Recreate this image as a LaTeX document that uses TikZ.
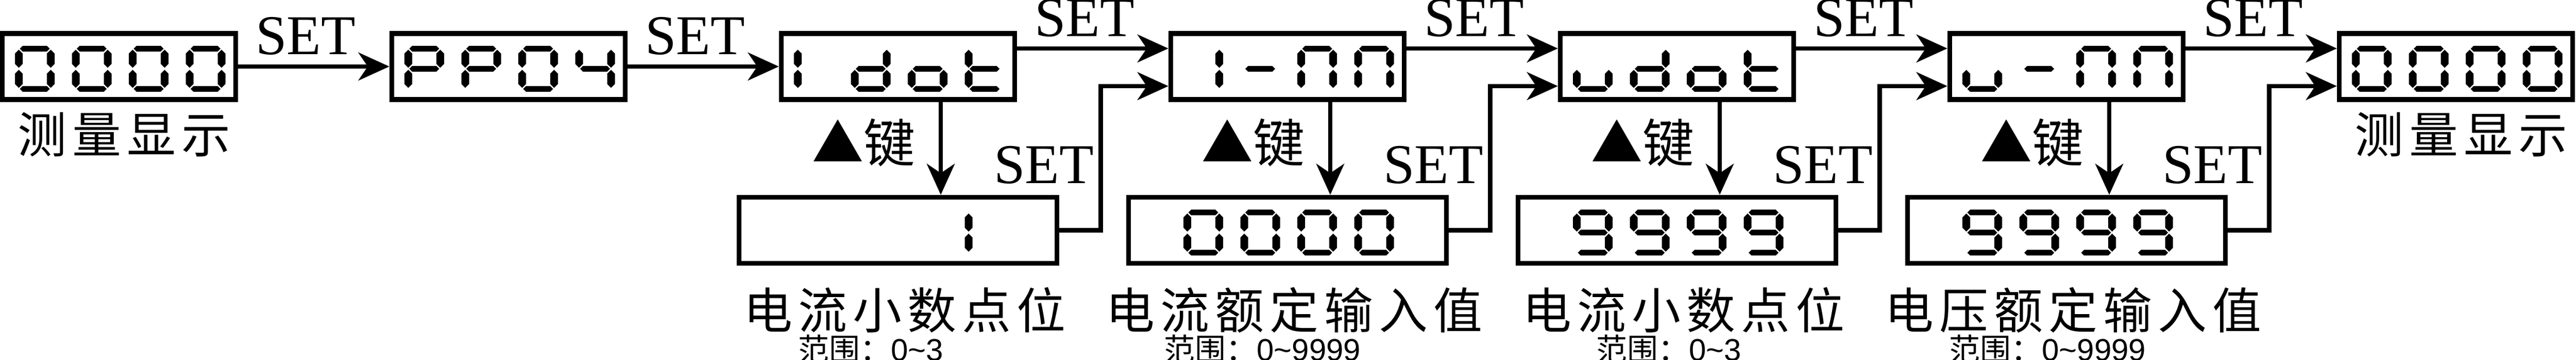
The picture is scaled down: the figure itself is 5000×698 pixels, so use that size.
\documentclass[tikz,border=0pt]{standalone}
\usepackage{fontspec}
\setmainfont{Liberation Serif}
\setsansfont{Liberation Sans}
\newfontfamily\cjk{Noto Sans CJK SC}
\newfontfamily\cjkls[LetterSpace=11.5]{Noto Sans CJK SC}
\usepackage{tikz}
\usetikzlibrary{arrows.meta,positioning}
\tikzset{>={Stealth[length=6pt,width=5.4pt,inset=1.8pt]}}

\newcommand\hseg[3]{\fill (#1+2,#3) -- (#1+7.5,#3-5.5) -- (#2-7.5,#3-5.5) -- (#2-2,#3) -- (#2-7.5,#3+5.5) -- (#1+7.5,#3+5.5) -- cycle;}
\newcommand\vseg[3]{\fill (#1,#2+2) -- (#1+7.5,#2+9.5) -- (#1+7.5,#3-9.5) -- (#1,#3-2) -- (#1-7.5,#3-9.5) -- (#1-7.5,#2+9.5) -- cycle;}
\newcommand\sgA{\hseg{7.5}{69.5}{5.5}}
\newcommand\sgB{\vseg{69.5}{5.5}{44.5}}
\newcommand\sgC{\vseg{69.5}{44.5}{83.5}}
\newcommand\sgD{\hseg{7.5}{69.5}{83.5}}
\newcommand\sgE{\vseg{7.5}{44.5}{83.5}}
\newcommand\sgF{\vseg{7.5}{5.5}{44.5}}
\newcommand\sgG{\hseg{7.5}{69.5}{44.5}}
\expandafter\def\csname lcd0\endcsname{\sgA\sgB\sgC\sgD\sgE\sgF}
\expandafter\def\csname lcd4\endcsname{\sgB\sgC\sgF\sgG}
\expandafter\def\csname lcd9\endcsname{\sgA\sgB\sgC\sgD\sgF\sgG}
\expandafter\def\csname lcdP\endcsname{\sgA\sgB\sgE\sgF\sgG}
\expandafter\def\csname lcdd\endcsname{\sgB\sgC\sgD\sgE\sgG}
\expandafter\def\csname lcdo\endcsname{\sgC\sgD\sgE\sgG}
\expandafter\def\csname lcdt\endcsname{\sgD\sgE\sgF\sgG}
\expandafter\def\csname lcdu\endcsname{\sgC\sgD\sgE}
\expandafter\def\csname lcdn\endcsname{\sgA\sgB\sgC\sgE\sgF}
\expandafter\def\csname lcd-\endcsname{\sgG}
\expandafter\def\csname lcdI\endcsname{\sgE\sgF}
\expandafter\def\csname lcdi\endcsname{\sgB\sgC}
\expandafter\def\csname lcdx\endcsname{}
\newcommand\lcdshow[2]{\foreach \c [count=\i from 0] in {#2}
  {\begin{scope}[shift={(#1.center)},shift={(-202+110.5*\i,-40)}]\csname lcd\c\endcsname\end{scope}}}

\begin{document}
\begin{tikzpicture}[x=0.1pt,y=-0.1pt,line width=0.85pt]

\tikzstyle{lcd}=[draw,line width=0.95pt,minimum width=45.3pt,minimum height=12.8pt,inner sep=0]
\tikzstyle{lcdv}=[lcd,minimum width=61.7pt]
\tikzstyle{lab}=[midway,anchor=base,xshift=-1.6pt,yshift=2.35pt,inner sep=0,font=\fontsize{10.9}{12}\selectfont]
\tikzstyle{fb}=[pos=0.162,anchor=base east,xshift=-0.9pt,inner sep=0,font=\fontsize{10.9}{12}\selectfont]
\tikzstyle{keylab}=[midway,anchor=east,xshift=-4.5pt,yshift=1.15pt,inner sep=0,font=\cjk\fontsize{10}{12}\selectfont]
\tikzstyle{capt}=[inner sep=0,font=\cjkls\fontsize{9.5}{11}\selectfont]
\tikzstyle{rng}=[anchor=north west,inner sep=0,font=\sffamily\fontsize{6}{7}\selectfont]

\useasboundingbox[fill=white] (0,0) rectangle (5000,698);

\node[lcd] (meas) at (231,129) {};
\node[lcd] (pp) at (987,129) {};
\node[lcd] (idot) at (1743,129) {};
\node[lcd] (inn) at (2499,129) {};
\node[lcd] (udot) at (3255,129) {};
\node[lcd] (unn) at (4011,129) {};
\node[lcd] (back) at (4767,129) {};
\node[lcdv] (idotv) at (1743,446.5) {};
\node[lcdv] (innv) at (2499,446.5) {};
\node[lcdv] (udotv) at (3255,446.5) {};
\node[lcdv] (unnv) at (4011,446.5) {};

\lcdshow{meas}{0,0,0,0}
\lcdshow{pp}{P,P,0,4}
\lcdshow{idot}{I,d,o,t}
\lcdshow{inn}{i,-,n,n}
\lcdshow{udot}{u,d,o,t}
\lcdshow{unn}{u,-,n,n}
\lcdshow{back}{0,0,0,0}
\lcdshow{idotv}{x,x,x,I}
\lcdshow{innv}{0,0,0,0}
\lcdshow{udotv}{9,9,9,9}
\lcdshow{unnv}{9,9,9,9}

\draw[->] (meas) -- node[lab] {SET} (pp);
\draw[->] (pp) -- node[lab] {SET} (idot);
\draw[->] ([yshift=3.5pt]idot.east) -- node[lab] {SET} ([yshift=3.5pt]inn.west);
\draw[->] ([yshift=3.5pt]inn.east) -- node[lab] {SET} ([yshift=3.5pt]udot.west);
\draw[->] ([yshift=3.5pt]udot.east) -- node[lab] {SET} ([yshift=3.5pt]unn.west);
\draw[->] ([yshift=3.5pt]unn.east) -- node[lab] {SET} ([yshift=3.5pt]back.west);

\draw[->] ([xshift=8.3pt]idot.south) -- node[keylab] {▲键} ([xshift=8.3pt]idotv.north);
\draw[->] ([xshift=8.3pt]inn.south) -- node[keylab] {▲键} ([xshift=8.3pt]innv.north);
\draw[->] ([xshift=8.3pt]udot.south) -- node[keylab] {▲键} ([xshift=8.3pt]udotv.north);
\draw[->] ([xshift=8.3pt]unn.south) -- node[keylab] {▲键} ([xshift=8.3pt]unnv.north);

\draw[->] (idotv.east) -- ++(80,0) |- node[fb] {SET} ([yshift=-3.8pt]inn.west);
\draw[->] (innv.east) -- ++(80,0) |- node[fb] {SET} ([yshift=-3.8pt]udot.west);
\draw[->] (udotv.east) -- ++(80,0) |- node[fb] {SET} ([yshift=-3.8pt]unn.west);
\draw[->] (unnv.east) -- ++(80,0) |- node[fb] {SET} ([yshift=-3.8pt]back.west);

\node[capt,below=1.6pt of meas,xshift=1pt] (measc) {测量显示};
\node[capt,below=1.6pt of back,xshift=1pt] (backc) {测量显示};
\node[capt,below=3.8pt of idotv,xshift=1.3pt] (idotc) {电流小数点位};
\node[capt,below=3.8pt of innv,xshift=1.3pt] (innc) {电流额定输入值};
\node[capt,below=3.8pt of udotv,xshift=1.3pt] (udotc) {电流小数点位};
\node[capt,below=3.8pt of unnv,xshift=1.3pt] (unnc) {电压额定输入值};

\node[rng] (idotr) at (1545,645) {{\cjk 范围：}0\textasciitilde 3};
\node[rng] (innr) at (2255,645) {{\cjk 范围：}0\textasciitilde 9999};
\node[rng] (udotr) at (3094,645) {{\cjk 范围：}0\textasciitilde 3};
\node[rng] (unnr) at (3779,645) {{\cjk 范围：}0\textasciitilde 9999};
\end{tikzpicture}
\end{document}
